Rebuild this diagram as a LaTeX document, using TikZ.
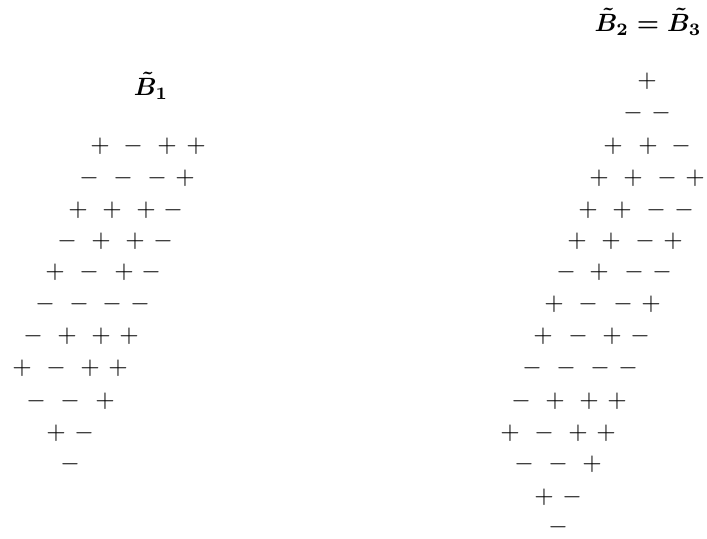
\documentclass[tikz,border=0pt]{standalone}
\tikzset{
  signsym/.style={inner sep=0pt,anchor=center},
  titlelbl/.style={inner sep=0pt,anchor=center,font=\boldmath}
}
\begin{document}
\begin{tikzpicture}[x=0.4pt,y=-0.4pt]
\path[use as bounding box] (0,0) rectangle (707,539);
\node[titlelbl] (t1) at (151,86) {$\tilde{B}_{1}$};
\node[titlelbl] (t2) at (648,22) {$\tilde{B}_{2}=\tilde{B}_{3}$};
\foreach \s/\x/\y [count=\i] in {
  +/100/146, -/133/146, +/167/146, +/196/146,
  -/89/178, -/123/178, -/157/178, +/185/178,
  +/78/210, +/112/210, +/146/210, -/173/210,
  -/67/241, +/101/241, +/135/241, -/163/241,
  +/55/272, -/89/272, +/124/272, -/151/272,
  -/45/304, -/79/304, -/112/304, -/140/304,
  -/33/336, +/67/336, +/101/336, +/129/336,
  +/22/368, -/56/368, +/90/368, +/118/368,
  -/36/401, -/70/401, +/105/401,
  +/56/433, -/84/433,
  -/70/464}
  {\node[signsym] (l\i) at (\x,\y) {$\s$};}
\foreach \s/\x/\y [count=\i] in {
  +/647/81,
  -/633/113, -/661/113,
  +/613/146, +/648/146, -/681/146,
  +/599/178, +/633/178, -/667/178, +/695/178,
  +/588/210, +/622/210, -/656/210, -/684/210,
  +/577/241, +/611/241, -/645/241, +/673/241,
  -/566/272, +/599/272, -/634/272, -/662/272,
  +/554/304, -/588/304, -/623/304, +/651/304,
  +/543/336, -/578/336, +/612/336, -/640/336,
  -/532/368, -/566/368, -/600/368, -/628/368,
  -/521/401, +/555/401, +/589/401, +/617/401,
  +/510/433, -/544/433, +/578/433, +/606/433,
  -/524/464, -/558/464, +/592/464,
  +/544/497, -/572/497,
  -/558/527}
  {\node[signsym] (r\i) at (\x,\y) {$\s$};}
\end{tikzpicture}
\end{document}
